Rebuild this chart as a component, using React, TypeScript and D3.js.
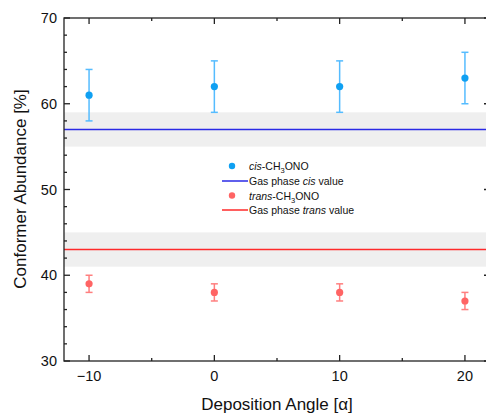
import React from "react";
import * as d3 from "d3";

const angles = [-10, 0, 10, 20];
const cisValues = [61, 62, 62, 63];
const cisErrors = [3, 3, 3, 3];
const transValues = [39, 38, 38, 37];
const transErrors = [1, 1, 1, 1];
const gasCis = 57;
const gasCisBand = [55, 59];
const gasTrans = 43;
const gasTransBand = [41, 45];
const xTicks = [-10, 0, 10, 20];
const xMinorTicks = [-5, 5, 15];
const yTicks = [30, 40, 50, 60, 70];
const yMinorTicks = [32, 34, 36, 38, 42, 44, 46, 48, 52, 54, 56, 58, 62, 64, 66, 68];

const W = 486, H = 413;
const left = 64, right = 490, top = 18, bottom = 361;
const font = "Arial, 'Liberation Sans', sans-serif";

export default function App() {
  const x = d3.scaleLinear().domain([-12, 22]).range([left, right]);
  const y = d3.scaleLinear().domain([30, 70]).range([bottom, top]);
  const cisCol = "#0fa0f2", cisErr = "#55bcff";
  const trCol = "#ff6464", trErr = "#ff7f7f";
  const legendX = 232, legendText = 249;
  const rows = [166, 181, 195.5, 210];
  const lfs = 10.5;
  return (
    <svg width={W} height={H} style={{ position: "absolute", left: 0, top: 0 }} fontFamily={font}>
      <rect x={0} y={0} width={W} height={H} fill="#fff" />
      {/* bands */}
      <rect x={left} width={right - left} y={y(gasCisBand[1])} height={y(gasCisBand[0]) - y(gasCisBand[1])} fill="#efefef" />
      <rect x={left} width={right - left} y={y(gasTransBand[1])} height={y(gasTransBand[0]) - y(gasTransBand[1])} fill="#efefef" />
      <line x1={left} x2={right} y1={y(gasCis)} y2={y(gasCis)} stroke="#2a2ae6" strokeWidth={1.5} />
      <line x1={left} x2={right} y1={y(gasTrans)} y2={y(gasTrans)} stroke="#ff2a2a" strokeWidth={1.5} />
      {/* error bars and points */}
      {angles.map((a, i) => (
        <g key={"c" + i}>
          <line x1={x(a)} x2={x(a)} y1={y(cisValues[i] - cisErrors[i])} y2={y(cisValues[i] + cisErrors[i])} stroke={cisErr} strokeWidth={1.5} />
          <line x1={x(a) - 3.5} x2={x(a) + 3.5} y1={y(cisValues[i] - cisErrors[i])} y2={y(cisValues[i] - cisErrors[i])} stroke={cisErr} strokeWidth={1.5} />
          <line x1={x(a) - 3.5} x2={x(a) + 3.5} y1={y(cisValues[i] + cisErrors[i])} y2={y(cisValues[i] + cisErrors[i])} stroke={cisErr} strokeWidth={1.5} />
          <circle cx={x(a)} cy={y(cisValues[i])} r={3.6} fill={cisCol} />
        </g>
      ))}
      {angles.map((a, i) => (
        <g key={"t" + i}>
          <line x1={x(a)} x2={x(a)} y1={y(transValues[i] - transErrors[i])} y2={y(transValues[i] + transErrors[i])} stroke={trErr} strokeWidth={1.5} />
          <line x1={x(a) - 3.5} x2={x(a) + 3.5} y1={y(transValues[i] - transErrors[i])} y2={y(transValues[i] - transErrors[i])} stroke={trErr} strokeWidth={1.5} />
          <line x1={x(a) - 3.5} x2={x(a) + 3.5} y1={y(transValues[i] + transErrors[i])} y2={y(transValues[i] + transErrors[i])} stroke={trErr} strokeWidth={1.5} />
          <circle cx={x(a)} cy={y(transValues[i])} r={3.6} fill={trCol} />
        </g>
      ))}
      {/* frame */}
      <rect x={left} y={top} width={right - left} height={bottom - top} fill="none" stroke="#222" strokeWidth={1.3} />
      {/* x ticks */}
      {xTicks.map((t) => (
        <g key={"xt" + t}>
          <line x1={x(t)} x2={x(t)} y1={bottom} y2={bottom - 6} stroke="#222" strokeWidth={1.3} />
          <line x1={x(t)} x2={x(t)} y1={top} y2={top + 6} stroke="#222" strokeWidth={1.3} />
          <text x={x(t)} y={bottom + 20} textAnchor="middle" fontSize={14.5} fill="#111">{t < 0 ? "\u2212" + Math.abs(t) : t}</text>
        </g>
      ))}
      {xMinorTicks.map((t) => (
        <g key={"xm" + t}>
          <line x1={x(t)} x2={x(t)} y1={bottom} y2={bottom - 3} stroke="#222" strokeWidth={1.3} />
          <line x1={x(t)} x2={x(t)} y1={top} y2={top + 3} stroke="#222" strokeWidth={1.3} />
        </g>
      ))}
      {yTicks.map((t) => (
        <g key={"yt" + t}>
          <line x1={left} x2={left + 6} y1={y(t)} y2={y(t)} stroke="#222" strokeWidth={1.3} />
          <line x1={right} x2={right - 6} y1={y(t)} y2={y(t)} stroke="#222" strokeWidth={1.3} />
          <text x={left - 7} y={y(t) + 5} textAnchor="end" fontSize={14.5} fill="#111">{t}</text>
        </g>
      ))}
      {yMinorTicks.map((t) => (
        <g key={"ym" + t}>
          <line x1={left} x2={left + 3} y1={y(t)} y2={y(t)} stroke="#222" strokeWidth={1.3} />
          <line x1={right} x2={right - 3} y1={y(t)} y2={y(t)} stroke="#222" strokeWidth={1.3} />
        </g>
      ))}
      {/* axis titles */}
      <text x={277} y={410} textAnchor="middle" fontSize={17} fill="#111">Deposition Angle [α]</text>
      <text transform={`translate(25.5, 189) rotate(-90)`} textAnchor="middle" fontSize={17} fill="#111">Conformer Abundance [%]</text>
      {/* legend */}
      <circle cx={legendX} cy={rows[0]} r={3.2} fill={cisCol} />
      <text x={legendText} y={rows[0] + 4} fontSize={lfs} fill="#111">
        <tspan fontStyle="italic">cis</tspan>-CH<tspan fontSize={7.5} dy={3}>3</tspan><tspan dy={-3}>ONO</tspan>
      </text>
      <line x1={222} x2={248} y1={rows[1]} y2={rows[1]} stroke="#2a2ae6" strokeWidth={1.5} />
      <text x={legendText} y={rows[1] + 4} fontSize={lfs} fill="#111">
        Gas phase <tspan fontStyle="italic">cis</tspan> value
      </text>
      <circle cx={legendX} cy={rows[2]} r={3.2} fill={trCol} />
      <text x={legendText} y={rows[2] + 4} fontSize={lfs} fill="#111">
        <tspan fontStyle="italic">trans</tspan>-CH<tspan fontSize={7.5} dy={3}>3</tspan><tspan dy={-3}>ONO</tspan>
      </text>
      <line x1={222} x2={248} y1={rows[3]} y2={rows[3]} stroke="#ff2a2a" strokeWidth={1.5} />
      <text x={legendText} y={rows[3] + 4} fontSize={lfs} fill="#111">
        Gas phase <tspan fontStyle="italic">trans</tspan> value
      </text>
    </svg>
  );
}
